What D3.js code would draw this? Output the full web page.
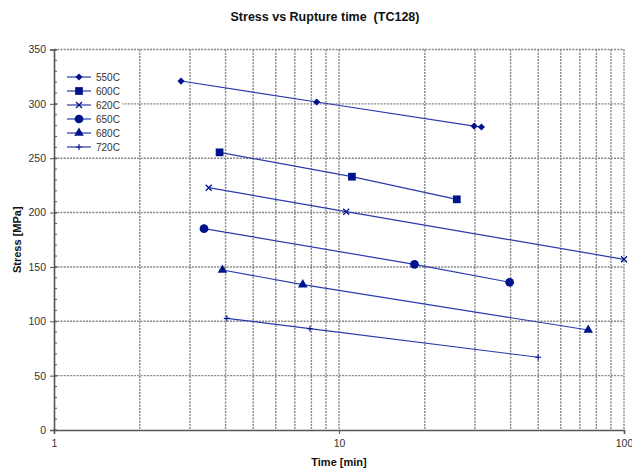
<!DOCTYPE html>
<html>
<head>
<meta charset="utf-8">
<script src="https://cdn.jsdelivr.net/npm/d3@7"></script>
<style>
  body { margin: 0; background: #fff; }
  svg text { font-family: "Liberation Sans", Arial, sans-serif; }
</style>
</head>
<body>
<div id="chart"></div>
<script>
// series data (time [min], stress [MPa])
const seriesNames = ["550C", "600C", "620C", "650C", "680C", "720C"];
const time550 = [2.79, 8.35, 29.8, 31.6];
const stress550 = [321, 301.7, 279.6, 278.7];
const time600 = [3.81, 11.1, 25.9];
const stress600 = [255.4, 233, 212.2];
const time620 = [3.49, 10.6, 100];
const stress620 = [222.9, 200.8, 157];
const time650 = [3.36, 18.4, 39.7];
const stress650 = [185.2, 152.4, 135.9];
const time680 = [3.9, 7.46, 74.9];
const stress680 = [147.2, 133.7, 92];
const time720 = [4.04, 7.91, 50];
const stress720 = [102.7, 93.2, 66.9];
const yTicks = [0, 50, 100, 150, 200, 250, 300, 350];
const xTicks = [1, 10, 100];

const times = [time550, time600, time620, time650, time680, time720];
const stresses = [stress550, stress600, stress620, stress650, stress680, stress720];
const symbols = ["diamond", "square", "cross", "circle", "triangle", "plus"];

const width = 632, height = 468;
const margin = { top: 49.5, right: 8, bottom: 38, left: 54 };
const innerW = width - margin.left - margin.right;
const innerH = height - margin.top - margin.bottom;

const svg = d3.select("#chart").append("svg")
  .attr("width", width)
  .attr("height", height);

const g = svg.append("g")
  .attr("transform", `translate(${margin.left},${margin.top})`);

const x = d3.scaleLog().domain([1, 100]).range([0, innerW]);
const y = d3.scaleLinear().domain([0, 350]).range([innerH, 0]);

const gridColor = "#858585";
const axisColor = "#555";

// vertical grid lines at every log step
const xGrid = [];
for (let d = 1; d < 100; d *= 10) {
  for (let k = 1; k <= 9; k++) xGrid.push(d * k);
}
xGrid.push(100);
g.selectAll(".vgrid")
  .data(xGrid.filter(v => v > 1))
  .enter().append("line")
  .attr("x1", d => x(d)).attr("x2", d => x(d))
  .attr("y1", 0).attr("y2", innerH)
  .attr("stroke", gridColor)
  .attr("stroke-width", 1.4)
  .attr("stroke-dasharray", "2,1.2");

// horizontal grid lines
g.selectAll(".hgrid")
  .data(yTicks.filter(v => v > 0))
  .enter().append("line")
  .attr("x1", 0).attr("x2", innerW)
  .attr("y1", d => y(d)).attr("y2", d => y(d))
  .attr("stroke", gridColor)
  .attr("stroke-width", 1.4)
  .attr("stroke-dasharray", "2,1.2");

// y axis with minor ticks every 10
const yMinor = d3.range(0, 351, 10);
g.selectAll(".yminor")
  .data(yMinor)
  .enter().append("line")
  .attr("x1", 0).attr("x2", 3)
  .attr("y1", d => y(d)).attr("y2", d => y(d))
  .attr("stroke", axisColor)
  .attr("stroke-width", 1);

const yAxis = g.append("g")
  .call(d3.axisLeft(y).tickValues(yTicks).tickSize(4).tickPadding(4));
yAxis.select(".domain").attr("stroke", axisColor).attr("stroke-width", 1.6);
yAxis.selectAll(".tick line").attr("stroke", axisColor).attr("x2", -4).attr("x1", 3);
yAxis.selectAll("text").attr("fill", "#333").style("font-size", "10.5px");

const xAxis = g.append("g")
  .attr("transform", `translate(0,${innerH})`)
  .call(d3.axisBottom(x).tickValues(xTicks).tickFormat(d3.format("d")).tickSize(4).tickPadding(6));
xAxis.select(".domain").attr("stroke", axisColor).attr("stroke-width", 1.6);
xAxis.selectAll(".tick line").attr("stroke", axisColor);
xAxis.selectAll("text").attr("fill", "#333").style("font-size", "10.5px");

// series
const lineColor = "#2a3aae";
const markColor = "#00138c";
const line = d3.line().x(d => x(d[0])).y(d => y(d[1]));

function symbolPath(name, size) {
  const types = {
    square: d3.symbolSquare,
    circle: d3.symbolCircle,
    triangle: d3.symbolTriangle
  };
  return d3.symbol().type(types[name]).size(size)();
}

function drawMarker(sel, name, cx, cy) {
  if (name === "cross") {
    sel.append("path")
      .attr("d", "M-3,-3L3,3M-3,3L3,-3")
      .attr("transform", `translate(${cx},${cy})`)
      .attr("stroke", markColor).attr("stroke-width", 1.3).attr("fill", "none");
  } else if (name === "plus") {
    sel.append("path")
      .attr("d", "M-3,0L3,0M0,-3L0,3")
      .attr("transform", `translate(${cx},${cy})`)
      .attr("stroke", markColor).attr("stroke-width", 1.1).attr("fill", "none");
  } else if (name === "diamond") {
    sel.append("path")
      .attr("d", d3.symbol().type(d3.symbolSquare).size(26)())
      .attr("transform", `translate(${cx},${cy}) rotate(45)`)
      .attr("fill", markColor);
  } else {
    const sizes = { square: 60, circle: 60, triangle: 40 };
    sel.append("path")
      .attr("d", symbolPath(name, sizes[name]))
      .attr("transform", `translate(${cx},${cy})`)
      .attr("fill", markColor);
  }
}

seriesNames.forEach((name, i) => {
  const pts = times[i].map((t, j) => [t, stresses[i][j]]);
  g.append("path")
    .datum(pts)
    .attr("d", line)
    .attr("fill", "none")
    .attr("stroke", lineColor)
    .attr("stroke-width", 1.2);
  pts.forEach(p => drawMarker(g, symbols[i], x(p[0]), y(p[1])));
});

// legend
const legend = g.append("g").attr("transform", "translate(4,16)");
legend.append("rect")
  .attr("x", 0).attr("y", 0)
  .attr("width", 64).attr("height", 88)
  .attr("fill", "#fff");
seriesNames.forEach((name, i) => {
  const ly = 11.5 + i * 14;
  legend.append("line")
    .attr("x1", 9).attr("x2", 33)
    .attr("y1", ly).attr("y2", ly)
    .attr("stroke", lineColor).attr("stroke-width", 1.2);
  drawMarker(legend, symbols[i], 21, ly);
  legend.append("text")
    .attr("x", 38).attr("y", ly + 3.5)
    .attr("fill", "#333")
    .style("font-size", "10px")
    .text(name);
});

// titles
svg.append("text")
  .attr("x", 325).attr("y", 21)
  .attr("text-anchor", "middle")
  .style("font-size", "12.5px")
  .style("font-weight", "bold")
  .style("white-space", "pre")
  .attr("fill", "#111")
  .text("Stress vs Rupture time  (TC128)");

svg.append("text")
  .attr("x", margin.left + innerW / 2).attr("y", 466)
  .attr("text-anchor", "middle")
  .style("font-size", "11px")
  .style("font-weight", "bold")
  .attr("fill", "#111")
  .text("Time [min]");

svg.append("text")
  .attr("transform", `translate(21,${margin.top + innerH / 2}) rotate(-90)`)
  .attr("text-anchor", "middle")
  .style("font-size", "11px")
  .style("font-weight", "bold")
  .attr("fill", "#111")
  .text("Stress [MPa]");
</script>
</body>
</html>
